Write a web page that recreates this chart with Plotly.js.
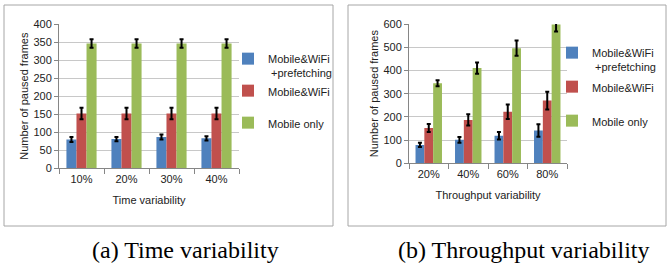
<!DOCTYPE html>
<html><head><meta charset="utf-8">
<script src="https://cdn.plot.ly/plotly-3.0.1.min.js"></script>
<style>html,body{margin:0;padding:0;background:#fff}#chart{width:670px;height:263px}</style>
</head><body><div id="chart"></div>
<script>
// Panel (a): time variability
const timeCats = ['10%', '20%', '30%', '40%'];
const timeWifiPref = [80, 81, 87, 83];
const timeWifiPrefErr = [7, 6, 7, 6];
const timeWifi = [152, 152, 152, 152];
const timeWifiErr = [16, 16, 16, 16];
const timeMobile = [346, 346, 346, 346];
const timeMobileErr = [12, 12, 12, 12];

// Panel (b): throughput variability
const tputCats = ['20%', '40%', '60%', '80%'];
const tputWifiPref = [79, 101, 119, 141];
const tputWifiPrefErr = [9, 12, 16, 27];
const tputWifi = [152, 187, 222, 270];
const tputWifiErr = [17, 24, 31, 38];
const tputMobile = [345, 410, 496, 598];
const tputMobileErr = [13, 24, 33, 30];

const seriesNames = ['Mobile&WiFi<br> +prefetching', 'Mobile&WiFi', 'Mobile only'];
const colors = ['#4f81bd', '#c0504d', '#9bbb59'];
const captions = ['(a) Time variability', '(b) Throughput variability'];

const W = 670, H = 263;
const px = v => v / W, py = v => 1 - v / H;

function bar(x, y, err, i, xa, ya, leg) {
  return {
    type: 'bar', x: x, y: y, name: seriesNames[i], xaxis: xa, yaxis: ya, legend: leg,
    marker: {color: colors[i]},
    error_y: {type: 'data', array: err, visible: true, color: '#000', thickness: 2, width: 2}
  };
}
const data = [
  bar(timeCats, timeWifiPref, timeWifiPrefErr, 0, 'x', 'y', 'legend'),
  bar(timeCats, timeWifi, timeWifiErr, 1, 'x', 'y', 'legend2'),
  bar(timeCats, timeMobile, timeMobileErr, 2, 'x', 'y', 'legend3'),
  bar(tputCats, tputWifiPref, tputWifiPrefErr, 0, 'x2', 'y2', 'legend4'),
  bar(tputCats, tputWifi, tputWifiErr, 1, 'x2', 'y2', 'legend5'),
  bar(tputCats, tputMobile, tputMobileErr, 2, 'x2', 'y2', 'legend6')
];

const tickFont = {family: 'Liberation Sans, Arial, sans-serif', size: 11, color: '#222'};
function xax(dom, title) {
  return {type: 'category', domain: dom, showgrid: false, showline: true, linecolor: '#868686', linewidth: 1,
    ticks: 'outside', tickson: 'boundaries', ticklen: 5, tickcolor: '#868686',
    tickfont: tickFont, title: {text: title, font: tickFont, standoff: 12}, fixedrange: true};
}
function yax(dom, rng, dt, title) {
  return {domain: dom, range: rng, dtick: dt, showgrid: true, gridcolor: '#c8c8c8', gridwidth: 1,
    showline: true, linecolor: '#868686', linewidth: 1, ticks: 'outside', ticklen: 4, tickcolor: '#868686',
    tickfont: tickFont, title: {text: title, font: tickFont, standoff: 2}, zeroline: false, fixedrange: true};
}
const xa1 = xax([px(59), px(239)], 'Time variability'); xa1.anchor = 'y';
const xa2 = xax([px(409), px(567)], 'Throughput variability'); xa2.anchor = 'y2';
const ya1 = yax([py(168.3), py(24)], [0, 400], 50, 'Number of paused frames'); ya1.anchor = 'x';
const ya2 = yax([py(163.3), py(24)], [0, 600], 100, 'Number of paused frames'); ya2.anchor = 'x2';

const legFont = {family: 'Liberation Sans, Arial, sans-serif', size: 11, color: '#222'};
function leg(x, yTop) {
  return {x: px(x), y: py(yTop), xanchor: 'left', yanchor: 'top', font: legFont, valign: 'top',
    bgcolor: 'rgba(0,0,0,0)', itemwidth: 30};
}
const capFont = {family: 'Liberation Serif, Times New Roman, serif', size: 24, color: '#000'};
const layout = {
  width: W, height: H, margin: {l: 0, r: 0, t: 0, b: 0},
  paper_bgcolor: '#fff', plot_bgcolor: '#fff',
  barmode: 'group', bargap: 0.33, bargroupgap: 0,
  xaxis: xa1, yaxis: ya1, xaxis2: xa2, yaxis2: ya2,
  showlegend: true,
  legend: leg(228, 45), legend2: leg(228, 77), legend3: leg(228, 109),
  legend4: leg(552, 39), legend5: leg(552, 73), legend6: leg(552, 107),
  shapes: [
    {type: 'rect', xref: 'paper', yref: 'paper', x0: px(4), x1: px(333), y0: py(226), y1: py(5),
      line: {color: '#a6a6a6', width: 1}},
    {type: 'rect', xref: 'paper', yref: 'paper', x0: px(348), x1: px(666), y0: py(226), y1: py(5),
      line: {color: '#a6a6a6', width: 1}}
  ],
  annotations: [
    {text: captions[0], xref: 'paper', yref: 'paper', x: px(185), y: py(250), xanchor: 'center', yanchor: 'middle',
      showarrow: false, font: capFont},
    {text: captions[1], xref: 'paper', yref: 'paper', x: px(524), y: py(250), xanchor: 'center', yanchor: 'middle',
      showarrow: false, font: capFont}
  ]
};
Plotly.newPlot('chart', data, layout, {displayModeBar: false, staticPlot: true});
</script>
</body></html>
